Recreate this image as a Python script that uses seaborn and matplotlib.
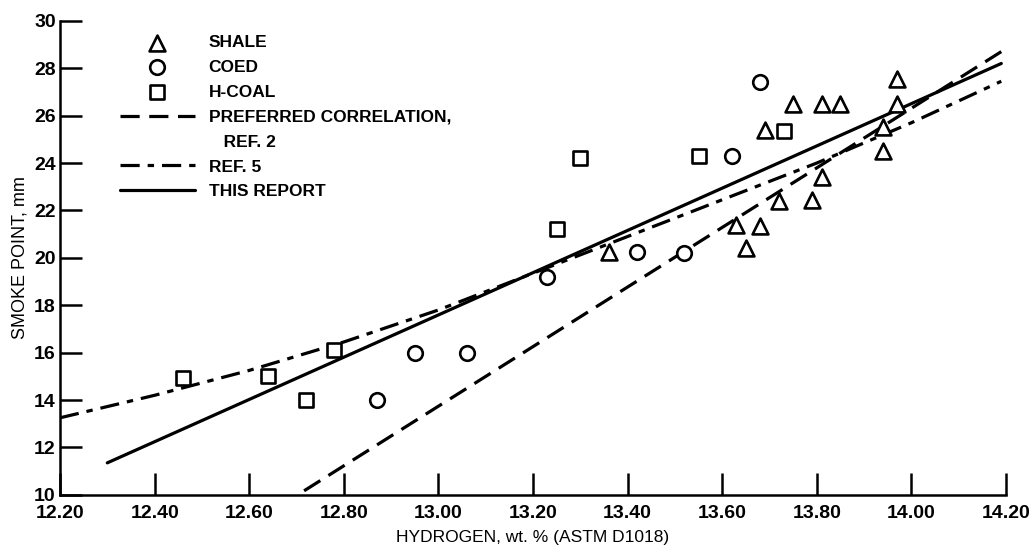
import matplotlib
matplotlib.use("Agg")
import matplotlib.pyplot as plt
from matplotlib.lines import Line2D
import seaborn as sns

# Puntos (hidrogeno % en peso vs punto de humo mm)
shale_h = [13.36, 13.63, 13.68, 13.65, 13.72, 13.79, 13.81, 13.69, 13.75, 13.81, 13.85, 13.94, 13.94, 13.97, 13.97]
shale_sp = [20.25, 21.4, 21.35, 20.4, 22.4, 22.45, 23.4, 25.4, 26.5, 26.5, 26.5, 25.5, 24.5, 27.55, 26.5]

coed_h = [12.87, 12.95, 13.06, 13.23, 13.42, 13.52, 13.62, 13.68]
coed_sp = [14.0, 16.0, 16.0, 19.2, 20.25, 20.2, 24.3, 27.4]

hcoal_h = [12.46, 12.64, 12.72, 12.78, 13.25, 13.30, 13.55, 13.73]
hcoal_sp = [14.95, 15.0, 14.0, 16.1, 21.2, 24.2, 24.3, 25.35]

# Correlaciones
pref_h = [12.716, 14.19]
pref_sp = [10.17, 28.7]

ref5_h = [12.2, 12.4, 12.6, 12.8, 13.0, 13.2, 13.4, 13.6, 13.8, 14.0, 14.19]
ref5_sp = [13.25, 14.2, 15.25, 16.45, 17.8, 19.35, 20.9, 22.45, 24.0, 25.7, 27.45]

report_h = [12.30, 14.19]
report_sp = [11.35, 28.2]

x_ticks = [12.2, 12.4, 12.6, 12.8, 13.0, 13.2, 13.4, 13.6, 13.8, 14.0, 14.2]
x_tick_labels = ["12.20", "12.40", "12.60", "12.80", "13.00", "13.20",
                 "13.40", "13.60", "13.80", "14.00", "14.20"]
y_ticks = [10, 12, 14, 16, 18, 20, 22, 24, 26, 28, 30]

sns.set_style("ticks")
plt.rcParams["font.family"] = ["Liberation Sans", "DejaVu Sans"]
plt.rcParams["text.color"] = "black"
plt.rcParams["axes.labelcolor"] = "black"
plt.rcParams["xtick.color"] = "black"
plt.rcParams["ytick.color"] = "black"
plt.rcParams["axes.edgecolor"] = "black"

figura, ax = plt.subplots(figsize=(10.35, 5.48), dpi=100)
figura.subplots_adjust(left=0.058, right=0.972, bottom=0.097, top=0.962)

estilo_marca = dict(color="white", edgecolor="black", linewidth=1.9, zorder=3)
sns.scatterplot(x=shale_h, y=shale_sp, marker="^", s=130, label="SHALE", ax=ax, **estilo_marca)
sns.scatterplot(x=coed_h, y=coed_sp, marker="o", s=110, label="COED", ax=ax, **estilo_marca)
sns.scatterplot(x=hcoal_h, y=hcoal_sp, marker="s", s=95, label="H-COAL", ax=ax, **estilo_marca)

sns.lineplot(x=pref_h, y=pref_sp, color="black", linewidth=2.3,
             linestyle=(0, (6, 3)), label="PREFERRED CORRELATION,", ax=ax)
sns.lineplot(x=ref5_h, y=ref5_sp, color="black", linewidth=2.3,
             linestyle=(0, (6, 2.5, 2, 2.5)), label="REF. 5", ax=ax)
sns.lineplot(x=report_h, y=report_sp, color="black", linewidth=2.3,
             label="THIS REPORT", ax=ax)

ax.set_xlim(12.2, 14.2)
ax.set_ylim(10, 30)
ax.set_xticks(x_ticks)
ax.set_xticklabels(x_tick_labels, fontweight="bold")
ax.set_yticks(y_ticks)
ax.set_yticklabels([str(v) for v in y_ticks], fontweight="bold")
sns.despine(ax=ax)
for lado in ["left", "bottom"]:
    ax.spines[lado].set_linewidth(1.8)
ax.tick_params(direction="in", length=16, width=1.8, labelsize=14)
ax.tick_params(axis="x", pad=7)
ax.tick_params(axis="y", pad=3)

ax.set_xlabel("HYDROGEN, wt. % (ASTM D1018)", fontsize=12.5, labelpad=6)
ax.set_ylabel("SMOKE POINT, mm", fontsize=13, labelpad=4)

manejadores, etiquetas = ax.get_legend_handles_labels()
idx = etiquetas.index("PREFERRED CORRELATION,")
manejadores.insert(idx + 1, Line2D([], [], linestyle="none"))
etiquetas.insert(idx + 1, "   REF. 2")
leyenda = ax.legend(manejadores, etiquetas, loc="upper left",
                    bbox_to_anchor=(120 / 1035, 1 - 35 / 548), bbox_transform=figura.transFigure,
                    frameon=False, fontsize=12.5, handlelength=4.3, handletextpad=0.8,
                    labelspacing=0.56, borderpad=0, borderaxespad=0)
for texto in leyenda.get_texts():
    texto.set_fontweight("bold")

figura.savefig("out.png", dpi=100)
plt.close(figura)
